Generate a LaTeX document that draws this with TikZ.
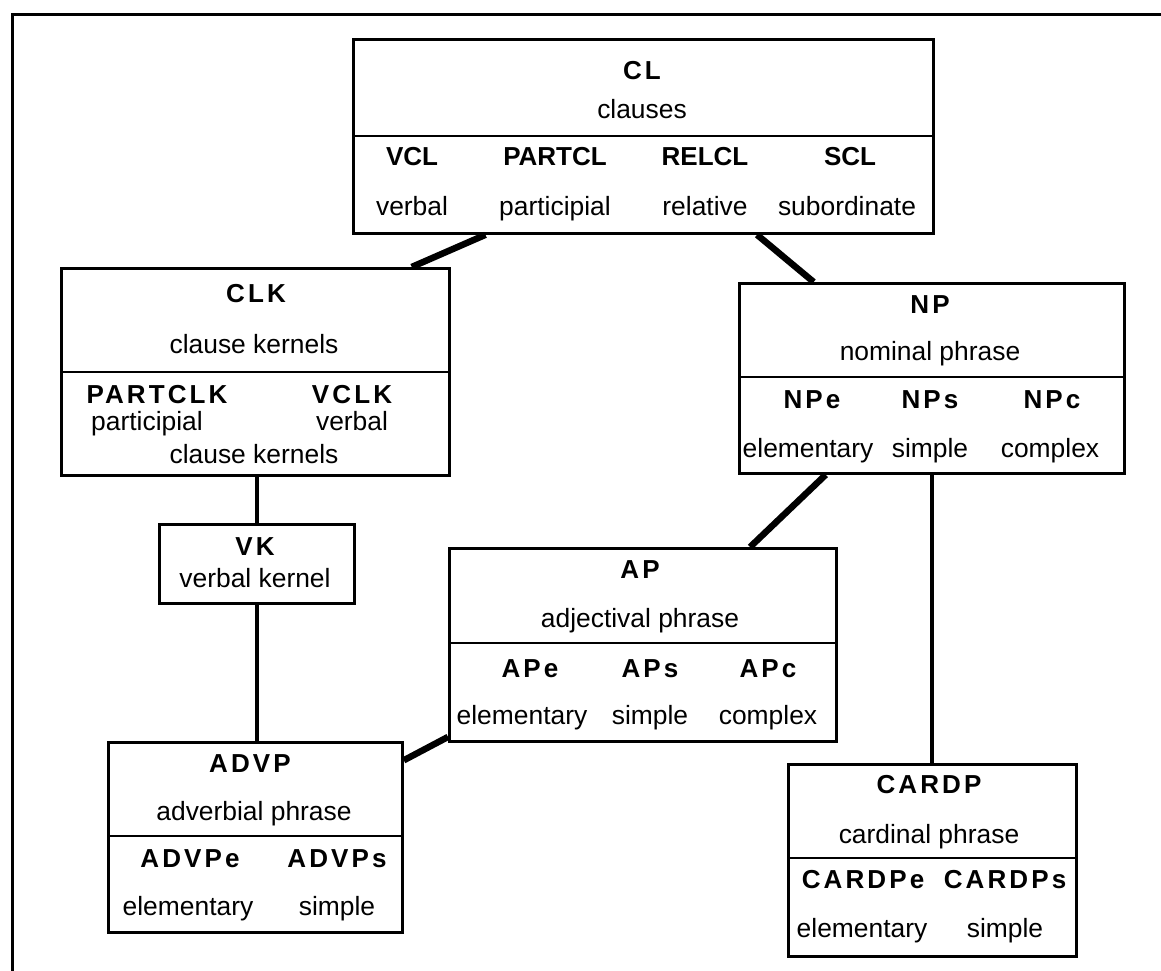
\documentclass[tikz,border=0pt]{standalone}
\usepackage{fontspec}
\setmainfont{Liberation Sans}
\newfontfamily\spacedsans{Liberation Sans}[LetterSpace=12]
\usetikzlibrary{calc}

\tikzset{
  unitbox/.style={draw, line width=2.8pt, rectangle, inner sep=0pt, anchor=north west},
  rule/.style={line width=2.8pt},
  heavy/.style={line width=6.5pt},
  light/.style={line width=4pt},
  txt/.style={anchor=base, inner sep=0pt, font=\fontsize{26.4}{30}\selectfont},
  hd/.style={anchor=base, inner sep=0pt, font=\fontsize{26}{30}\selectfont\spacedsans\bfseries},
  sub/.style={anchor=base, inner sep=0pt, font=\fontsize{26}{30}\selectfont\bfseries},
}

\begin{document}
\begin{tikzpicture}[x=1pt,y=-1pt]
\useasboundingbox (0,0) rectangle (1161,971);

% page frame (top and left edges only)
\draw[line width=3pt] (1161,15) -- (12,15) -- (12,971);

% ---- clauses
\node[unitbox, minimum width=580pt, minimum height=194pt] (cl) at (352,38) {};
\draw[rule] (cl.west |- 0,136) -- (cl.east |- 0,136);
\node[hd]  (cl-n)  at (642,80)  {CL};
\node[txt] (cl-d)  at (642,119) {clauses};
\node[sub] (vcl)   at (412,165) {VCL};
\node[sub] (pcl)   at (555,165) {PARTCL};
\node[sub] (rcl)   at (705,165) {RELCL};
\node[sub] (scl)   at (850,165) {SCL};
\node[txt] (vcl-d) at (412,215) {verbal};
\node[txt] (pcl-d) at (555,215) {participial};
\node[txt] (rcl-d) at (705,215) {relative};
\node[txt] (scl-d) at (847,215) {subordinate};

% ---- clause kernels
\node[unitbox, minimum width=388pt, minimum height=207pt] (clk) at (60,267) {};
\draw[rule] (clk.west |- 0,372) -- (clk.east |- 0,372);
\node[hd]  (clk-n)  at (256,302) {CLK};
\node[txt] (clk-d)  at (254,353) {clause kernels};
\node[hd]  (pclk)   at (157,403) {PARTCLK};
\node[hd]  (vclk)   at (352,403) {VCLK};
\node[txt] (pclk-d) at (147,430) {participial};
\node[txt] (vclk-d) at (352,430) {verbal};
\node[txt] (clk-d2) at (254,463) {clause kernels};

% ---- verbal kernel
\node[unitbox, minimum width=195pt, minimum height=79pt] (vk) at (158,523) {};
\node[hd]  (vk-n) at (255,555) {VK};
\node[txt] (vk-d) at (255,587) {verbal kernel};

% ---- nominal phrase
\node[unitbox, minimum width=385pt, minimum height=190pt] (np) at (738,282) {};
\draw[rule] (np.west |- 0,377) -- (np.east |- 0,377);
\node[hd]  (np-n)  at (930,313)  {NP};
\node[txt] (np-d)  at (930,360)  {nominal phrase};
\node[hd]  (npe)   at (812,408)  {NPe};
\node[hd]  (nps)   at (930,408)  {NPs};
\node[hd]  (npc)   at (1052,408) {NPc};
\node[txt] (npe-d) at (808,457)  {elementary};
\node[txt] (nps-d) at (930,457)  {simple};
\node[txt] (npc-d) at (1050,457) {complex};

% ---- adjectival phrase
\node[unitbox, minimum width=387pt, minimum height=193pt] (ap) at (448,547) {};
\draw[rule] (ap.west |- 0,643) -- (ap.east |- 0,643);
\node[hd]  (ap-n)  at (640,578) {AP};
\node[txt] (ap-d)  at (640,627) {adjectival phrase};
\node[hd]  (ape)   at (530,677) {APe};
\node[hd]  (aps)   at (650,677) {APs};
\node[hd]  (apc)   at (768,677) {APc};
\node[txt] (ape-d) at (522,724) {elementary};
\node[txt] (aps-d) at (650,724) {simple};
\node[txt] (apc-d) at (768,724) {complex};

% ---- adverbial phrase
\node[unitbox, minimum width=294pt, minimum height=190pt] (advp) at (107,741) {};
\draw[rule] (advp.west |- 0,836) -- (advp.east |- 0,836);
\node[hd]  (advp-n)  at (250,772) {ADVP};
\node[txt] (advp-d)  at (254,820) {adverbial phrase};
\node[hd]  (advpe)   at (190,867) {ADVPe};
\node[hd]  (advps)   at (337,867) {ADVPs};
\node[txt] (advpe-d) at (188,915) {elementary};
\node[txt] (advps-d) at (337,915) {simple};

% ---- cardinal phrase
\node[unitbox, minimum width=288pt, minimum height=192pt] (cardp) at (787,763) {};
\draw[rule] (cardp.west |- 0,858) -- (cardp.east |- 0,858);
\node[hd]  (cardp-n)  at (929,793)  {CARDP};
\node[txt] (cardp-d)  at (929,843)  {cardinal phrase};
\node[hd]  (cardpe)   at (863,888)  {CARDPe};
\node[hd]  (cardps)   at (1005,888) {CARDPs};
\node[txt] (cardpe-d) at (862,937)  {elementary};
\node[txt] (cardps-d) at (1005,937) {simple};

% ---- connectors
\draw[heavy] ($(cl.south west)!0.229!(cl.south east)$) -- ($(clk.north west)!0.9!(clk.north east)$);
\draw[heavy] ($(cl.south west)!0.695!(cl.south east)$) -- ($(np.north west)!0.195!(np.north east)$);
\draw[heavy] ($(np.south west)!0.226!(np.south east)$) -- ($(ap.north west)!0.775!(ap.north east)$);
\draw[heavy] ($(ap.north west)!0.97!(ap.south west)$) -- ($(advp.north east)!0.1!(advp.south east)$);
\draw[light] (clk.south -| vk.north) -- (vk.north);
\draw[light] (vk.south) -- (vk.south |- advp.north);
\draw[light] (np.south) -- (np.south |- cardp.north);
\end{tikzpicture}
\end{document}
